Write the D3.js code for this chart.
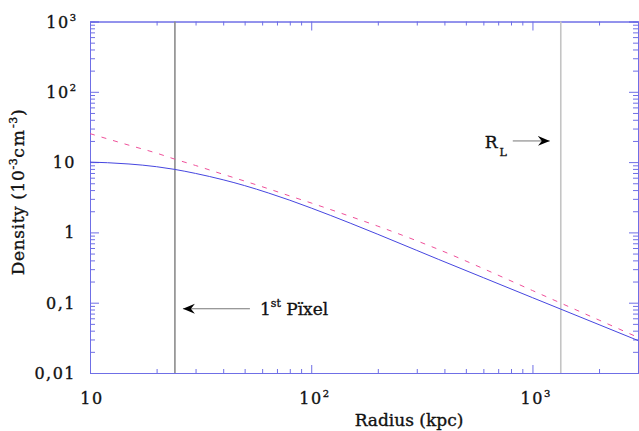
<!DOCTYPE html>
<html>
<head>
<meta charset="utf-8">
<script src="https://d3js.org/d3.v7.min.js"></script>
<style>
  body { margin: 0; background: #fff; }
  text { font-family: "DejaVu Serif", serif; fill: #111; stroke: #111; stroke-width: 0.35; }
</style>
</head>
<body>
<svg id="chart" width="639" height="431"></svg>
<script>
// radius (kpc) and density (10^-3 cm^-3)
const radius = [10, 12, 15, 20, 24, 30, 40, 50, 64, 80, 100, 150, 200, 300, 377, 600, 800, 1000, 1343, 2000, 3000];
const betaDensity = [10.0, 9.8, 9.4, 8.6, 7.9, 6.9, 5.6, 4.63, 3.64, 2.87, 2.22, 1.355, 0.94, 0.555, 0.412, 0.227, 0.157, 0.118, 0.081, 0.0487, 0.029];
const powerDensity = [25.4, 21.4, 17.4, 13.4, 11.1, 8.95, 6.7, 5.37, 4.18, 3.3, 2.62, 1.69, 1.227, 0.76, 0.571, 0.305, 0.204, 0.149, 0.0987, 0.0566, 0.0321];

const xTickValues = [10, 100, 1000];
const xTickText = [["10", ""], ["10", "2"], ["10", "3"]];
const yTickValues = [0.01, 0.1, 1, 10, 100, 1000];
const yTickText = [["0,01", ""], ["0,1", ""], ["1", ""], ["10", ""], ["10", "2"], ["10", "3"]];

const firstPixel = 24.2;   // kpc
const limitRadius = 1343;  // R_L, kpc

(function () {
  var svg = d3.select("#chart");
  var axisColor = "#6f6fe6";

  var x = d3.scaleLog().domain([10, 3000]).range([90, 638]);
  var y = d3.scaleLog().domain([0.01, 1000]).range([373, 21.5]);

  var xMinor = x.ticks().filter(function (d) { return xTickValues.indexOf(d) < 0; });
  var yMinor = y.ticks().filter(function (d) { return yTickValues.indexOf(d) < 0; });

  function drawAxis(axisFn, scale, transform, majors, minors, majorLen, minorLen) {
    var g = svg.append("g").attr("transform", transform);
    g.call(axisFn(scale).tickValues(majors).tickSize(-majorLen).tickFormat(""));
    var g2 = svg.append("g").attr("transform", transform);
    g2.call(axisFn(scale).tickValues(minors).tickSize(-minorLen).tickFormat(""));
    [g, g2].forEach(function (s) {
      s.selectAll("path, line").attr("stroke", axisColor).attr("stroke-width", 1);
    });
  }

  drawAxis(d3.axisBottom, x, "translate(0,373)", xTickValues, xMinor, 8, 4);
  drawAxis(d3.axisTop, x, "translate(0,21.5)", xTickValues, xMinor, 9, 4);
  drawAxis(d3.axisLeft, y, "translate(90,0)", yTickValues, yMinor, 9, 5);
  drawAxis(d3.axisRight, y, "translate(638,0)", yTickValues, yMinor, 9, 5);

  // vertical marker lines
  svg.append("line")
    .attr("x1", x(firstPixel)).attr("x2", x(firstPixel))
    .attr("y1", y(1000)).attr("y2", y(0.01))
    .attr("stroke", "#8c8c8c").attr("stroke-width", 1.6);
  svg.append("line")
    .attr("x1", x(limitRadius)).attr("x2", x(limitRadius))
    .attr("y1", y(1000)).attr("y2", y(0.01))
    .attr("stroke", "#c4c4c4").attr("stroke-width", 1.6);

  // curves
  var line = d3.line()
    .x(function (d) { return x(d[0]); })
    .y(function (d) { return y(d[1]); })
    .curve(d3.curveMonotoneX);

  svg.append("path")
    .datum(d3.zip(radius, powerDensity))
    .attr("d", line)
    .attr("fill", "none")
    .attr("stroke", "#f0509a")
    .attr("stroke-width", 1)
    .attr("stroke-dasharray", "5,7");

  svg.append("path")
    .datum(d3.zip(radius, betaDensity))
    .attr("d", line)
    .attr("fill", "none")
    .attr("stroke", "#4646e0")
    .attr("stroke-width", 1);

  // tick labels
  function supLabel(sel, parts, baseSize, supSize) {
    sel.append("tspan").attr("font-size", baseSize).attr("letter-spacing", 1.5).text(parts[0]);
    if (parts[1]) {
      sel.append("tspan").attr("font-size", supSize).attr("dy", -7).text(parts[1]);
    }
  }

  xTickValues.forEach(function (v, i) {
    var t = svg.append("text")
      .attr("x", x(v) + (xTickText[i][1] ? 3 : 2))
      .attr("y", 404)
      .attr("text-anchor", "middle");
    supLabel(t, xTickText[i], 16, 10);
  });

  yTickValues.forEach(function (v, i) {
    var t = svg.append("text")
      .attr("x", 76)
      .attr("y", y(v) + 6)
      .attr("text-anchor", "end");
    supLabel(t, yTickText[i], 16, 10);
  });

  // axis titles
  svg.append("text")
    .attr("x", 409).attr("y", 426)
    .attr("text-anchor", "middle")
    .attr("font-size", 17)
    .text("Radius (kpc)");

  var yt = svg.append("text")
    .attr("transform", "translate(24,192) rotate(-90)")
    .attr("text-anchor", "middle")
    .attr("font-size", 17)
    .attr("letter-spacing", 0.6);
  yt.append("tspan").text("Density (10");
  yt.append("tspan").attr("font-size", 11).attr("dy", -7).text("-3");
  yt.append("tspan").attr("dy", 7).attr("letter-spacing", 2).text("cm");
  yt.append("tspan").attr("font-size", 11).attr("dy", -7).text("-3");
  yt.append("tspan").attr("dy", 7).text(")");

  // arrows
  svg.append("defs").append("marker")
    .attr("id", "head")
    .attr("viewBox", "-12 -6 14 12")
    .attr("markerWidth", 14).attr("markerHeight", 12)
    .attr("markerUnits", "userSpaceOnUse")
    .attr("refX", 0).attr("refY", 0)
    .attr("orient", "auto")
    .append("path")
    .attr("d", "M0,0 L-12,-5 L-8,0 L-12,5 Z")
    .attr("fill", "#000");

  var px = x(firstPixel);
  var py = y(0.082);
  svg.append("line")
    .attr("x1", px + 75).attr("x2", px + 8)
    .attr("y1", py).attr("y2", py)
    .attr("stroke", "#777").attr("stroke-width", 1)
    .attr("marker-end", "url(#head)");
  var pt = svg.append("text").attr("x", px + 85).attr("y", py + 6).attr("font-size", 17);
  pt.append("tspan").text("1");
  pt.append("tspan").attr("font-size", 11).attr("dy", -8).text("st");
  pt.append("tspan").attr("dy", 8).text(" Pïxel");

  var rx = x(limitRadius);
  var ry = y(20);
  svg.append("line")
    .attr("x1", rx - 48).attr("x2", rx - 11)
    .attr("y1", ry).attr("y2", ry)
    .attr("stroke", "#777").attr("stroke-width", 1)
    .attr("marker-end", "url(#head)");
  var rt = svg.append("text").attr("x", rx - 76).attr("y", ry + 7).attr("font-size", 17);
  rt.append("tspan").text("R");
  rt.append("tspan").attr("font-size", 11).attr("dy", 8).attr("dx", 2).text("L");
})();
</script>
</body>
</html>
